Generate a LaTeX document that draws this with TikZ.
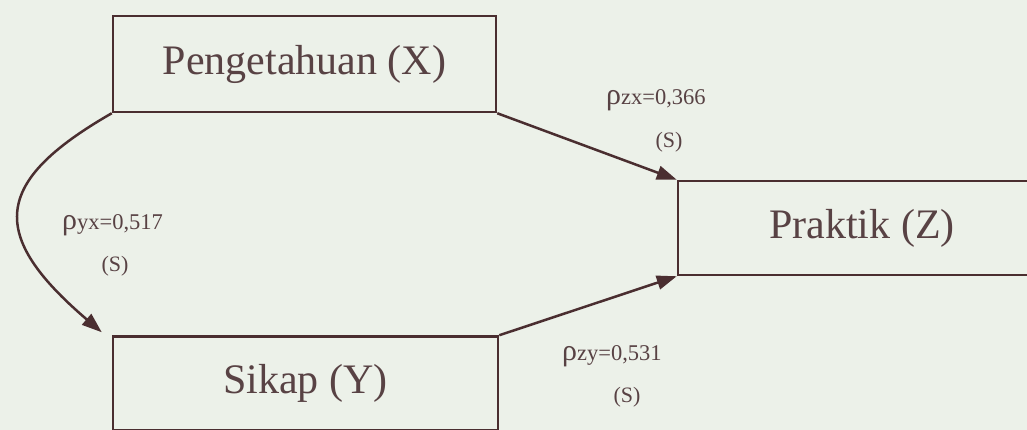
\documentclass[tikz,border=0pt]{standalone}
\usepackage{fontspec}
\setmainfont{Liberation Serif}
\usetikzlibrary{arrows.meta}
\definecolor{bgc}{RGB}{236,241,233}
\definecolor{linec}{RGB}{74,46,48}
\definecolor{textc}{RGB}{88,66,68}
\tikzset{
  boxnode/.style={draw=linec, line width=2.5pt, text=textc, inner sep=0pt,
    font=\fontsize{42}{50}\selectfont},
  arr/.style={draw=linec, line width=2.5pt, -{Triangle[length=20pt,width=14pt]}},
  coef/.style={text=textc, inner sep=0pt, anchor=base west},
  sig/.style={text=textc, inner sep=0pt, font=\fontsize{22}{24}\selectfont},
}
\newcommand{\rhosym}{{\fontsize{30}{30}\selectfont ρ}}
\newcommand{\subtxt}[1]{{\fontsize{22.5}{24}\selectfont #1}}
\begin{document}
\begin{tikzpicture}[x=1pt,y=-1pt]
\useasboundingbox (0,0) rectangle (1027,430);
\fill[bgc] (0,0) rectangle (1027,430);
\clip (0,0) rectangle (1027,430);

\node[boxnode, minimum width=383pt, minimum height=96pt] (X) at (304.5,64) {Pengetahuan (X)};
\node[boxnode, minimum width=368pt, minimum height=94pt] (Z) at (862,228) {Praktik (Z)};
\node[boxnode, minimum width=385pt, minimum height=94pt] (Y) at (305.5,383.5) {Sikap (Y)};

\draw[arr] (X.south east) -- (Z.north west);
\draw[arr] (Y.north east) -- (Z.south west);
\draw[arr] (X.south west) .. controls (-8,182) and (-12,235) .. ([xshift=-10pt,yshift=3pt]Y.north west);

\node[coef] (lzx) at (606,105) {\rhosym\subtxt{zx=0,366}};
\node[sig] (szx) at (669,142) {(S)};
\node[coef] (lyx) at (62,230) {\rhosym\subtxt{yx=0,517}};
\node[sig] (syx) at (115,266) {(S)};
\node[coef] (lzy) at (562,360) {\rhosym\subtxt{zy=0,531}};
\node[sig] (szy) at (627,397) {(S)};
\end{tikzpicture}
\end{document}
